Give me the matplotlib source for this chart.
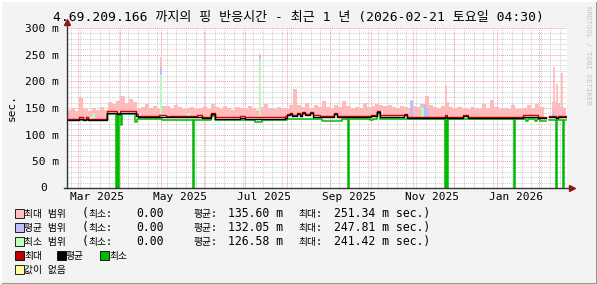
import matplotlib
matplotlib.use("Agg")
import matplotlib.pyplot as plt
from matplotlib.patches import Rectangle
from matplotlib.lines import Line2D
import numpy as np
from datetime import datetime, timedelta

MONO = ["DejaVu Sans Mono", "Noto Sans CJK KR"]
W, H = 597, 284

start = datetime(2025, 2, 21, 4, 30)
end = datetime(2026, 2, 21, 4, 30)
data_end = 364.3

title = "4.69.209.166 까지의 핑 반응시간 - 최근 1 년 (2026-02-21 토요일 04:30)"

# max / avg lines: step breakpoints (days after start, ms)
line_days = [0, 8.8, 11.7, 13.9, 15.3, 29.2, 36.5, 38.7, 50.4, 51.8,
             67.2, 72.3, 94.9, 98.6, 105.1, 108.0, 126.3, 129.9, 159.1, 160.6,
             162.8, 164.3, 167.9, 170.1, 171.6, 173.7, 177.4, 179.6, 184.7, 194.9,
             197.1, 221.9, 226.3, 228.5, 246.0, 248.2, 275.9, 277.4, 289.1, 292.7,
             332.9, 343.8, 349.7, 351.9, 357.0, 358.4]
max_vals = [130, 133, 130, 133, 130, 144, 141, 144, 138, 135,
            137, 135, 137, 134, 140, 133, 135, 133, 135, 138,
            141, 137, 141, 137, 143, 138, 143, 136, 135, 141,
            135, 137, 144, 136, 139, 134, 136, 134, 137, 134,
            136, 134, np.nan, 135, 132, 135]
avg_vals = [128, 130, 128, 130, 128, 141.5, 139, 141.5, 135, 133,
            134, 133, 134, 132, 138, 130, 132, 130, 132, 136,
            138, 135, 139, 135, 141, 136, 141, 134, 132.5, 139,
            132.5, 135, 142, 133, 137, 132, 133, 132, 135, 132,
            133.5, 132, np.nan, 132.5, 131, 132.5]

# min line: step breakpoints
min_days = [0, 29.2, 35.8, 36.5, 37.2, 38.0, 39.4, 40.2, 49.6, 51.1,
            69.4, 92.0, 92.7, 105.1, 108.0, 137.2, 142.4, 160.6, 186.2, 200.8,
            205.1, 205.9, 221.2, 223.4, 226.3, 228.5, 275.9, 276.7, 277.4, 278.1,
            326.3, 327.0, 335.1, 336.5, 341.6, 343.1, 345.3, 349.7, 351.9, 357.0,
            357.6, 362.1, 362.8]
min_vals = [127, 139, 0, 139, 0, 139, 118, 139, 124, 129,
            127.5, 0, 127.5, 135, 127.5, 124, 127.5, 129, 126, 129,
            0, 129, 127, 129, 140, 129, 0, 129, 0, 129,
            0, 129, 126, 129, 126, 129, 126, np.nan, 128, 0,
            128, 0, 128]

# top of the max range band, one value per 3 days
range_step = 3
max_range_top = [146, 150, 145, 168, 148, 145, 150, 147, 152, 146,
                 161, 158, 163, 172, 160, 167, 162, 150, 152, 158,
                 150, 154, 150, 153, 154, 150, 156, 151, 148, 150,
                 152, 148, 150, 153, 148, 158, 151, 149, 154, 150,
                 147, 152, 150, 148, 153, 150, 147, 151, 158, 150,
                 148, 152, 150, 149, 155, 186, 156, 152, 160, 150,
                 155, 151, 163, 152, 150, 155, 151, 164, 153, 150,
                 152, 150, 160, 151, 154, 157, 155, 153, 155, 152,
                 150, 154, 151, 150, 153, 151, 158, 172, 156, 151,
                 150, 153, 162, 151, 149, 152, 150, 148, 152, 150,
                 149, 158, 150, 165, 151, 148, 150, 149, 155, 149,
                 148, 150, 156, 150, 157, 152, 150, np.nan, 162, 160,
                 152, 150]

# narrow spikes: day, top of max / avg / min range
spike_days = [9.5, 68.6, 140.9, 276.7, 355.5, 357.7, 361.4]
spike_max = [171, 246, 251.34, 193, 227, 195, 215]
spike_avg = [np.nan, 227, 247.81, np.nan, 146, np.nan, np.nan]
spike_min = [np.nan, 212, 241.42, np.nan, np.nan, np.nan, np.nan]

# small patches of avg range / min range above the lines
avg_spot_days = [4.4, 15.3, 251.0, 260.5, 263.0]
avg_spot_top = [134, 134, 165, 158, 150]
min_spot_days = [88.4, 259.5, 19.0]
min_spot_top = [141, 152, 140]

month_labels = ["Mar 2025", "May 2025", "Jul 2025", "Sep 2025", "Nov 2025", "Jan 2026"]
label_dates = [datetime(2025, 3, 15), datetime(2025, 5, 15), datetime(2025, 7, 15),
               datetime(2025, 9, 15), datetime(2025, 11, 15), datetime(2026, 1, 15)]
y_ticks = [50, 100, 150, 200, 250, 300]

legend_rows = [
    ("#FFC0C0", "최대 범위", "0.00", "135.60 m", "251.34 m sec.)"),
    ("#C0C0FF", "평균 범위", "0.00", "132.05 m", "247.81 m sec.)"),
    ("#C0FFC0", "최소 범위", "0.00", "126.58 m", "241.42 m sec.)"),
]
line_legend = [("#BB0000", "최대"), ("#000000", "평균"), ("#00BB00", "최소")]

RED = "#CC0000"
GREEN = "#00BB00"


def day(d):
    return (d - start).total_seconds() / 86400.0


def fx(x):
    return x / W


def fy(y):
    return 1 - y / H


def step_at(days, vals, x):
    idx = np.searchsorted(days, x, side="right") - 1
    return np.asarray(vals, dtype=float)[idx]


def main():
    fig = plt.figure(figsize=(W / 100, H / 100), dpi=100, facecolor="#F3F3F3")
    ax = fig.add_axes([fx(67), fy(188), 500 / W, 160 / H])
    ax.set_facecolor("white")
    total = day(end)
    ax.set_xlim(0, total)
    ax.set_ylim(0, 300)

    # grid
    mgrid = dict(color="#F0A0A0", lw=0.7, ls=(0, (1, 1)), zorder=0.6)
    grid = dict(color="#CCCCCC", lw=0.7, ls=(0, (1, 1)), zorder=0.5)
    for v in range(10, 300, 10):
        if v % 50:
            ax.axhline(v, **grid)
    for v in range(50, 301, 50):
        ax.axhline(v, **mgrid)
    wk = datetime(2025, 2, 24)
    while wk < end:
        ax.axvline(day(wk), **grid)
        wk += timedelta(days=7)
    for m in range(3, 15):
        d = datetime(2025 + (m - 1) // 12, (m - 1) % 12 + 1, 1)
        ax.axvline(day(d), **mgrid)

    # max range band
    edges = np.append(np.arange(0, 364, range_step), data_end)
    top = np.array(max_range_top, dtype=float)
    base = step_at(np.array(line_days), max_vals, edges[:-1])
    ax.fill_between(edges, np.append(base, base[-1]), np.append(top, top[-1]),
                    step="post", color="#FFBBBB", lw=0, zorder=1)

    # spikes
    sb = step_at(np.array(line_days), avg_vals, np.array(spike_days))
    ax.vlines(spike_days, sb, spike_max, color="#FFBBBB", lw=1.3, zorder=1.1)
    ax.vlines(spike_days, sb, spike_avg, color="#BBBBFF", lw=1.3, zorder=1.2)
    ax.vlines(spike_days, sb, spike_min, color="#BBFFBB", lw=1.3, zorder=1.3)
    ab = step_at(np.array(line_days), avg_vals, np.array(avg_spot_days))
    ax.vlines(avg_spot_days, ab, avg_spot_top, color="#BBBBFF", lw=2, zorder=1.2)
    mb = step_at(np.array(line_days), avg_vals, np.array(min_spot_days))
    ax.vlines(min_spot_days, mb, min_spot_top, color="#BBFFBB", lw=2, zorder=1.3)

    # lines
    ld = line_days + [data_end]
    ax.step(min_days + [data_end], min_vals + [min_vals[-1]], where="post",
            color=GREEN, lw=1.1, zorder=3)
    ax.step(ld, max_vals + [max_vals[-1]], where="post", color=RED, lw=1.0, zorder=4)
    ax.step(ld, avg_vals + [avg_vals[-1]], where="post", color="black", lw=1.0, zorder=5)

    # axes
    for s in ax.spines.values():
        s.set_visible(False)
    ax.add_line(Line2D([0, 0], [0, 1.035], transform=ax.transAxes, color="#333333",
                       lw=1, clip_on=False, zorder=6))
    ax.add_line(Line2D([-0.006, 1.008], [0, 0], transform=ax.transAxes, color="#333333",
                       lw=1, clip_on=False, zorder=6))
    ax.plot([0], [1.04], marker="^", ms=4, color="#8B1A1A", transform=ax.transAxes,
            clip_on=False, zorder=7)
    ax.plot([1.01], [0], marker=">", ms=4, color="#8B1A1A", transform=ax.transAxes,
            clip_on=False, zorder=7)

    ax.set_yticks(y_ticks)
    ax.set_yticklabels([f"{v} m" for v in y_ticks], family=MONO, fontsize=8)
    ax.set_xticks([day(d) for d in label_dates])
    ax.set_xticklabels(month_labels, family=MONO, fontsize=8)
    ax.tick_params(length=0, pad=6, colors="black")
    ax.tick_params(axis="x", pad=3)
    ax.text(-20 / 500, 0, "0", transform=ax.transAxes, ha="right", va="center",
            family=MONO, fontsize=8)

    fig.text(fx(12), fy(108), "sec.", rotation=90, ha="center", va="center",
             family=MONO, fontsize=8)
    fig.text(0.5, fy(18), title, ha="center", va="center", family=MONO, fontsize=9.4)
    fig.text(fx(588), fy(6), "RRDTOOL / TOBI OETIKER", rotation=270, ha="center",
             va="top", family=MONO, fontsize=5.3, color="#C4C4C4")

    # legend
    def box(x, y, color):
        fig.add_artist(Rectangle((fx(x), fy(y + 4.5)), 9 / W, 9 / H, transform=fig.transFigure,
                                 fc=color, ec="black", lw=0.6))

    def txt(x, y, s, size=8.3):
        fig.text(fx(x), fy(y), s, ha="left", va="center", family=MONO, fontsize=size)

    for i, (color, name, mn, av, mx) in enumerate(legend_rows):
        y = 213.5 + 14 * i
        box(15, y, color)
        txt(24, y, name, 7)
        txt(82, y, "(", 8.3)
        txt(88, y, "최소:", 7)
        txt(136, y, mn)
        txt(194, y, "평균:", 7)
        txt(228, y, av)
        txt(298, y, "최대:", 7)
        txt(334, y, mx)
    y = 255.5
    for (color, name), x in zip(line_legend, [15, 57, 100]):
        box(x, y, color)
        txt(x + 9, y, name, 7)
    box(15, 269.5, "#FFFFA0")
    txt(24, 269.5, "값이 없음", 7)

    # frame
    fig.add_artist(Line2D([0, 1], [fy(283.5)] * 2, transform=fig.transFigure, color="#999999", lw=1.5))
    fig.add_artist(Line2D([fx(596.5)] * 2, [0, 1], transform=fig.transFigure, color="#999999", lw=1.5))
    fig.add_artist(Line2D([0, 1], [fy(0.5)] * 2, transform=fig.transFigure, color="#FFFFFF", lw=1.5))
    fig.add_artist(Line2D([fx(0.5)] * 2, [0, 1], transform=fig.transFigure, color="#FFFFFF", lw=1.5))

    fig.savefig("out.png", dpi=100, facecolor=fig.get_facecolor())


if __name__ == "__main__":
    main()
